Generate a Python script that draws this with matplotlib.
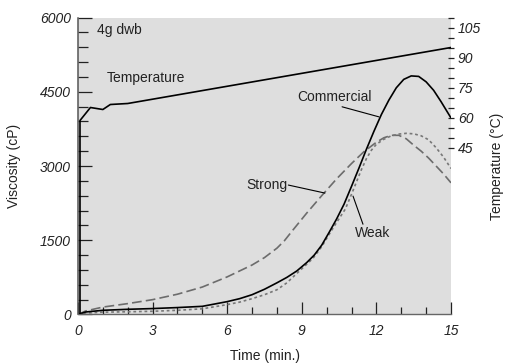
import matplotlib
matplotlib.use("Agg")
import matplotlib.pyplot as plt
from matplotlib.ticker import FixedLocator, MultipleLocator

plt.rcParams['font.family'] = ['Liberation Sans', 'DejaVu Sans']
plt.rcParams['lines.scale_dashes'] = False

# viscosity curves (cP) vs time (min.)
t_comm = [0, 0.3, 1, 2, 3, 4, 5, 6, 6.5, 7, 7.5, 8, 8.4, 8.8, 9.2, 9.5, 9.8,
          10.1, 10.4, 10.7, 11.0, 11.3, 11.6, 11.9, 12.2, 12.5, 12.8, 13.1,
          13.4, 13.7, 14.0, 14.3, 14.6, 15]
v_comm = [0, 50, 85, 105, 120, 140, 165, 260, 320, 400, 510, 640, 750, 880,
          1050, 1200, 1400, 1660, 1930, 2230, 2590, 2960, 3340, 3700, 4040,
          4330, 4580, 4750, 4820, 4810, 4700, 4530, 4300, 3970]

t_strong = [0, 0.3, 1, 2, 3, 4, 5, 6, 7, 7.5, 8, 8.3, 8.6, 9.2, 9.8, 10.4,
            11.0, 11.5, 12.0, 12.3, 12.6, 12.9, 13.2, 13.5, 13.8, 14.1, 14.4,
            14.7, 15]
v_strong = [0, 70, 150, 220, 300, 410, 555, 760, 1000, 1150, 1340, 1490, 1680,
            2050, 2400, 2740, 3050, 3290, 3480, 3570, 3620, 3620, 3550, 3420,
            3300, 3160, 3000, 2840, 2660]

t_weak = [0, 0.3, 1, 2, 3, 4, 5, 6, 6.5, 7, 7.5, 8, 8.4, 8.8, 9.1, 9.45, 9.8,
          10.1, 10.4, 10.75, 11.0, 11.2, 11.4, 11.6, 11.8, 12.0, 12.3, 12.6,
          12.9, 13.2, 13.5, 13.8, 14.1, 14.4, 14.7, 15]
v_weak = [0, 30, 47, 55, 65, 85, 115, 200, 250, 320, 400, 500, 640, 830, 970,
          1135, 1370, 1620, 1860, 2130, 2430, 2680, 2930, 3150, 3320, 3440,
          3540, 3610, 3645, 3660, 3650, 3610, 3530, 3370, 3180, 2950]

# temperature (°C)
t_temp = [0.08, 0.08, 0.5, 1.0, 1.3, 2.0, 15]
temp = [-38.5, 58.5, 65, 64, 66.5, 67, 95]

fig = plt.figure(figsize=(5.05, 3.64), dpi=100)
ax = fig.add_axes([0.15446, 0.13599, 0.73861, 0.81593])
ax.set_facecolor('#dedede')

ax.plot(t_strong, v_strong, color='#6c6c6c', lw=1.2, dashes=(7, 3))
ax.plot(t_weak, v_weak, color='#777777', lw=1.2, dashes=(2, 2))
ax.plot(t_comm, v_comm, color='black', lw=1.2)

ax.set_xlim(0, 15)
ax.set_ylim(0, 6000)
ax.xaxis.set_major_locator(MultipleLocator(3))
ax.xaxis.set_minor_locator(MultipleLocator(1))
ax.yaxis.set_major_locator(MultipleLocator(1500))
ax.yaxis.set_minor_locator(MultipleLocator(300))

for s in ['top', 'right']:
    ax.spines[s].set_visible(False)
ax.spines['left'].set_color('#555555')
ax.spines['left'].set_linewidth(1.1)
ax.spines['bottom'].set_color('#666666')
ax.spines['bottom'].set_linewidth(1.0)

ax.tick_params(axis='y', which='major', direction='in', length=10, width=0.9,
               color='#222222', pad=5, labelsize=10)
ax.tick_params(axis='y', which='minor', direction='in', length=7, width=0.9,
               color='#222222')
ax.tick_params(axis='x', which='major', direction='in', length=8.6, width=0.9,
               color='#222222', pad=6.5, labelsize=10)
ax.tick_params(axis='x', which='minor', direction='in', length=5, width=0.9,
               color='#222222')
for lab in ax.get_xticklabels() + ax.get_yticklabels():
    lab.set_fontstyle('italic')
    lab.set_color('#222222')

ax.set_xlabel('Time (min.)', fontsize=10, color='#222222')
ax.xaxis.set_label_coords(0.5, -0.115)
ax.xaxis.label.set_va('top')
ax.set_ylabel('Viscosity (cP)', fontsize=10, color='#222222')
ax.yaxis.set_label_coords(-0.153, 0.5)

# temperature axis
ax2 = ax.twinx()
ax2.patch.set_visible(False)
for s in ax2.spines.values():
    s.set_visible(False)
ax2.plot(t_temp, temp, color='black', lw=1.2)
ax2.set_ylim(-38.5, 110)
ax2.yaxis.set_major_locator(FixedLocator([45, 60, 75, 90, 105]))
ax2.yaxis.set_minor_locator(FixedLocator([50, 55, 65, 70, 80, 85, 95, 100, 110]))
ax2.tick_params(axis='y', which='both', direction='inout', length=4.5,
                width=0.9, color='#222222', pad=2.8, labelsize=10)
for lab in ax2.get_yticklabels():
    lab.set_fontstyle('italic')
    lab.set_color('#222222')
ax2.set_ylabel('Temperature (°C)', fontsize=10, color='#222222')
ax2.yaxis.set_label_coords(1.105, 0.5)

# labels and leader lines (viscosity coordinates)
ax.text(0.76, 5757, '4g dwb', fontsize=10, ha='left', va='center', color='#222222')
ax.text(1.17, 4784, 'Temperature', fontsize=10, ha='left', va='center', color='#222222')
ax.text(10.31, 4399, 'Commercial', fontsize=10, ha='center', va='center', color='#222222')
ax.text(8.44, 2615, 'Strong', fontsize=10, ha='right', va='center', color='#222222')
ax.text(11.14, 1642, 'Weak', fontsize=10, ha='left', va='center', color='#222222')

leader = dict(arrowstyle='-', color='black', lw=0.8, shrinkA=0, shrinkB=0)
ax.annotate('', xy=(12.1, 3993), xytext=(10.62, 4196), arrowprops=leader)
ax.annotate('', xy=(9.93, 2453), xytext=(8.46, 2615), arrowprops=leader)
ax.annotate('', xy=(11.46, 1824), xytext=(11.06, 2392), arrowprops=leader)

fig.savefig('out.png', dpi=100)
